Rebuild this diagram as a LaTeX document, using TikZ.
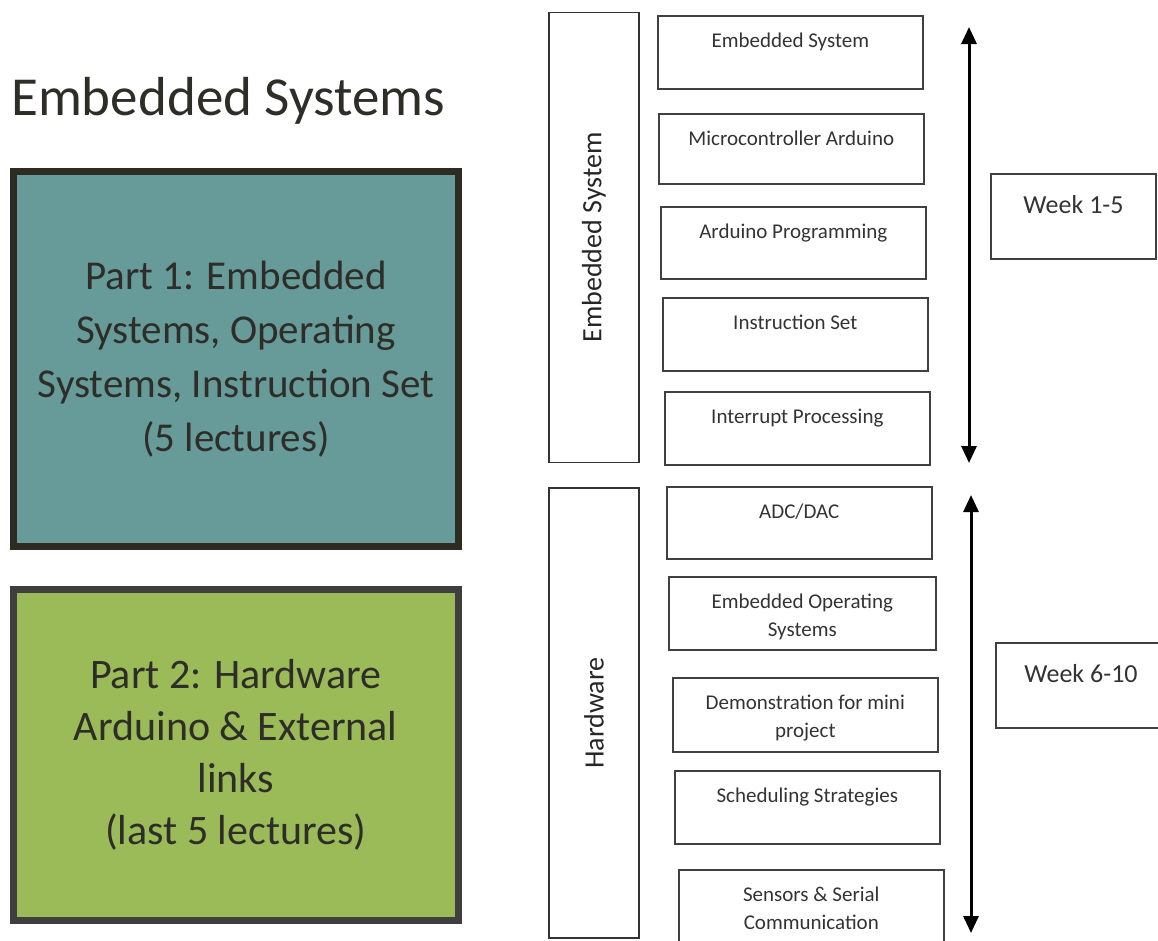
\documentclass[tikz,border=0pt]{standalone}
\usepackage{fontspec}
\setmainfont{Carlito}
\usetikzlibrary{arrows.meta}
\definecolor{tealfill}{HTML}{669B99}
\definecolor{tealline}{HTML}{2E2B23}
\definecolor{greenfill}{HTML}{9BBB59}
\definecolor{greenline}{HTML}{3F3F3F}
\definecolor{inkgray}{HTML}{2E2D28}
\tikzset{
  part/.style={line width=7pt, align=center, text=inkgray, inner sep=0pt},
  topic/.style={draw=black!75, line width=1.6pt, anchor=north west,
    minimum width=265pt, minimum height=73pt, inner sep=0pt},
  topictext/.style={anchor=base, yshift=-32pt, inner sep=0pt, align=center,
    font=\fontsize{21}{28}\selectfont, text=black!80},
  twolines/.style={yshift=-28pt},
  side/.style={draw=black!80, line width=1.6pt, rotate=90, minimum height=90pt,
    font=\fontsize{28}{34}\selectfont, text=black!85},
  week/.style={draw=black!75, line width=2pt, anchor=north west,
    minimum height=85pt, inner sep=0pt},
  weektext/.style={anchor=base, yshift=-40pt, inner sep=0pt,
    font=\fontsize{26}{30}\selectfont, text=black!80},
  spanarrow/.style={line width=3pt,
    {Triangle[length=17pt,width=15pt]}-{Triangle[length=17pt,width=15pt]}}
}

\begin{document}
\begin{tikzpicture}[x=1pt, y=-1pt]
  \useasboundingbox (0,0) rectangle (1158,940);
  \clip (0,0) rectangle (1158,940);

  % left column
  \node (title) [anchor=base west, inner sep=0pt, text=inkgray,
    font=\fontsize{55}{60}\selectfont] at (11,115) {Embedded Systems};
  \node (part1) [part, draw=tealline, fill=tealfill, minimum width=445pt,
    minimum height=374.5pt, font=\fontsize{41}{54}\selectfont] at (236,358.75)
    {Part 1: Embedded\\Systems, Operating\\Systems, Instruction Set\\(5 lectures)};
  \node (part2) [part, draw=greenline, fill=greenfill, minimum width=445.5pt,
    minimum height=331pt, font=\fontsize{42}{52}\selectfont] at (235.75,754.5)
    {Part 2: Hardware\\Arduino \& External\\links\\(last 5 lectures)};

  % side bars
  \node (sideA) [side, minimum width=450pt] at (594,237.5) {Embedded System};
  \node (sideB) [side, minimum width=450pt] at (594,713) {Hardware};

  % topics
  \node (emb) [topic, label={[topictext]north:Embedded System}] at (657,15) {};
  \node (mcu) [topic, minimum height=70pt,
    label={[topictext]north:Microcontroller Arduino}] at (658,113) {};
  \node (prog) [topic, minimum height=72pt,
    label={[topictext]north:Arduino Programming}] at (660,206) {};
  \node (iset) [topic, label={[topictext]north:Instruction Set}] at (662,297) {};
  \node (intr) [topic, label={[topictext]north:Interrupt Processing}] at (664,391) {};
  \node (adc) [topic, minimum height=72pt,
    label={[topictext]north:ADC/DAC}] at (666,486) {};
  \node (eos) [topic, minimum width=267pt,
    label={[topictext, twolines]north:Embedded Operating\\Systems}] at (668,576) {};
  \node (demo) [topic, minimum height=74pt,
    label={[topictext, twolines]north:Demonstration for mini\\project}] at (672,677) {};
  \node (sched) [topic, label={[topictext]north:Scheduling Strategies}] at (674,770) {};
  \node (sens) [topic,
    label={[topictext, twolines]north:Sensors \& Serial\\Communication}] at (678,869) {};

  % week spans
  \coordinate (topA) at (969,27);
  \coordinate (botA) at (969,463);
  \coordinate (topB) at (971,495);
  \coordinate (botB) at (971,933);
  \draw [spanarrow] (topA) -- (botA);
  \draw [spanarrow] (topB) -- (botB);

  \node (wk1) [week, minimum width=165pt,
    label={[weektext]north:Week 1-5}] at (990,173) {};
  \node (wk2) [week, minimum width=170pt,
    label={[weektext]north:Week 6-10}] at (995,642) {};
\end{tikzpicture}
\end{document}
